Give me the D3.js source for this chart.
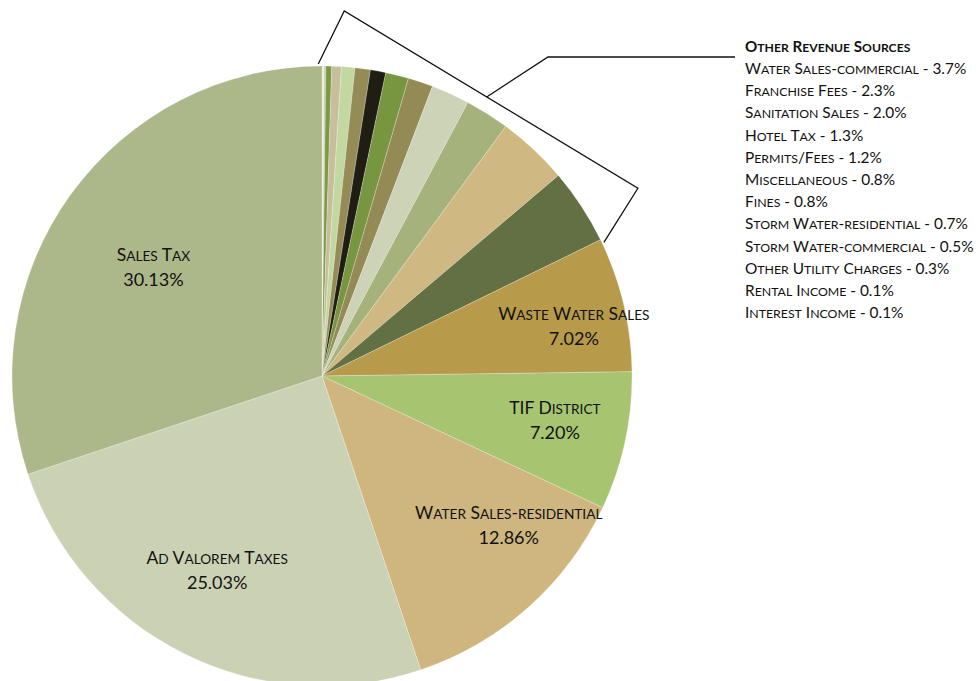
<!DOCTYPE html>
<html>
<head>
<meta charset="utf-8">
<script src="https://cdn.jsdelivr.net/npm/d3@7"></script>
<style>
  body { margin: 0; background: #fff; }
  text { font-family: Lato, "Open Sans", sans-serif; fill: #111; }
</style>
</head>
<body>
<script>
// slices, clockwise from 12 o'clock
const names = [
  "Interest Income", "Rental Income", "Other Utility Charges",
  "Storm Water-commercial", "Storm Water-residential", "Fines",
  "Miscellaneous", "Permits/Fees", "Hotel Tax", "Sanitation Sales",
  "Franchise Fees", "Water Sales-commercial", "Unlabeled",
  "Waste Water Sales", "TIF District", "Water Sales-residential",
  "Ad Valorem Taxes", "Sales Tax"
];
const values = [
  0.1, 0.1, 0.3, 0.5, 0.7, 0.8, 0.8, 1.2, 1.3, 2.0, 2.3, 3.7, 3.96,
  7.02, 7.20, 12.86, 25.03, 30.13
];
const colors = [
  "#ecebd9", "#c9cfae", "#7a9a44", "#c8be9c", "#c3d7a0", "#958b56",
  "#1f1d14", "#789640", "#948a55", "#ccd3b6", "#a5b27c", "#cfb882",
  "#637043", "#b89a4b", "#a7c471", "#cfb67f", "#cbd2b4", "#adb88a"
];

// big slices labelled on the pie
const labelled = ["Waste Water Sales", "TIF District", "Water Sales-residential", "Ad Valorem Taxes", "Sales Tax"];

// legend: other revenue sources
const otherTitle = "Other Revenue Sources";
const otherNames = [
  "Water Sales-commercial", "Franchise Fees", "Sanitation Sales", "Hotel Tax",
  "Permits/Fees", "Miscellaneous", "Fines", "Storm Water-residential",
  "Storm Water-commercial", "Other Utility Charges", "Rental Income", "Interest Income"
];
const otherPcts = [3.7, 2.3, 2.0, 1.3, 1.2, 0.8, 0.8, 0.7, 0.5, 0.3, 0.1, 0.1];

const w = 980;
const h = 681;
const cx = 322;
const cy = 376;
const R = 310;

// label placement (radius, angle tweak in degrees)
const labelLayout = {
  "Sales Tax": [204, -1.5],
  "Ad Valorem Taxes": [215, 2.7],
  "Water Sales-residential": [235, -10.9],
  "TIF District": [236, -2.9],
  "Waste Water Sales": [258, 0.9]
};

// fake small caps: lower-case runs drawn upper-case and smaller
function smallCaps(textSel, str, size, ratio) {
  const runs = str.match(/[a-z]+|[^a-z]+/g) || [];
  runs.forEach((r) => {
    const lower = /[a-z]/.test(r[0]);
    textSel.append("tspan")
      .style("font-size", (lower ? size * ratio : size) + "px")
      .text(r.toUpperCase());
  });
}

const svg = d3.select("body").append("svg").attr("width", w).attr("height", h);

const data = names.map((n, i) => ({ name: n, value: values[i], color: colors[i] }));
const pie = d3.pie().sort(null).value((d) => d.value);
const arcs = pie(data);
const arc = d3.arc().innerRadius(0).outerRadius(R);

const g = svg.append("g").attr("transform", `translate(${cx},${cy})`);

g.selectAll("path")
  .data(arcs)
  .enter()
  .append("path")
  .attr("d", arc)
  .attr("fill", (d) => d.data.color)
  .attr("stroke", "#fff")
  .attr("stroke-width", 0.4)
  .attr("stroke-opacity", 0.6);

// labels for the big slices
arcs
  .filter((d) => labelled.includes(d.data.name))
  .forEach((d) => {
    const lay = labelLayout[d.data.name];
    const a = (d.startAngle + d.endAngle) / 2 + (lay[1] * Math.PI) / 180;
    const x = lay[0] * Math.sin(a);
    const y = -lay[0] * Math.cos(a);
    const t1 = g.append("text")
      .attr("x", x)
      .attr("y", y)
      .attr("text-anchor", "middle");
    smallCaps(t1, d.data.name, 17.5, 0.78);
    g.append("text")
      .attr("x", x)
      .attr("y", y + 25)
      .attr("text-anchor", "middle")
      .style("font-size", "18px")
      .text(d.data.value.toFixed(2) + "%");
  });

// bracket round the small slices
const first = arcs[0];
const lastSmall = arcs[names.indexOf("Unlabeled")];
const bracketAt = (ang, r) => [cx + r * Math.sin(ang), cy - r * Math.cos(ang)];
const p0 = bracketAt(first.startAngle - 0.012, R + 2);
const p3 = bracketAt(lastSmall.endAngle + 0.012, R + 2);
const p1 = [p0[0] + 26, 11];
const p2 = [p3[0] + 34, p3[1] - 54];

svg.append("path")
  .attr("d", d3.line()([p0, p1, p2, p3]))
  .attr("fill", "none")
  .attr("stroke", "#111")
  .attr("stroke-width", 1.3);

// callout to legend
const tt = 0.485;
const pc = [p1[0] + (p2[0] - p1[0]) * tt, p1[1] + (p2[1] - p1[1]) * tt];
svg.append("path")
  .attr("d", d3.line()([pc, [548, 57], [735, 57]]))
  .attr("fill", "none")
  .attr("stroke", "#111")
  .attr("stroke-width", 1.3);

// legend text
const legend = svg.append("g").attr("transform", "translate(745,0)");
const title = legend.append("text")
  .attr("x", 0)
  .attr("y", 52)
  .style("font-weight", "bold");
smallCaps(title, otherTitle, 15.2, 0.8);

otherNames.forEach((n, i) => {
  const t = legend.append("text")
    .attr("x", 0)
    .attr("y", 74 + i * 22.2);
  smallCaps(t, `${n} - ${otherPcts[i].toFixed(1)}%`, 15.4, 0.8);
});
</script>
</body>
</html>
